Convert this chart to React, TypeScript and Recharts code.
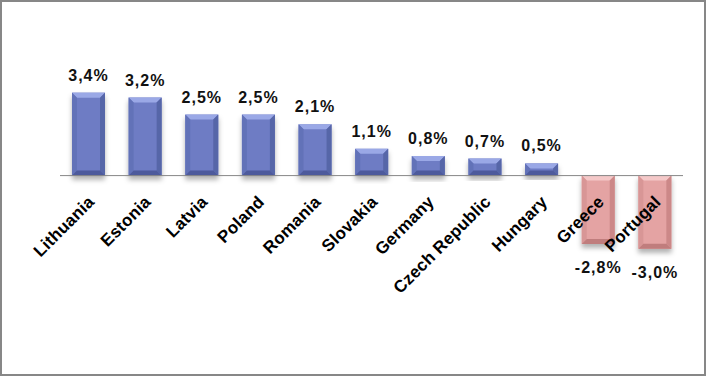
import { BarChart, Bar, XAxis, YAxis, ReferenceLine, LabelList } from 'recharts'

const countries = ['Lithuania', 'Estonia', 'Latvia', 'Poland', 'Romania', 'Slovakia', 'Germany', 'Czech Republic', 'Hungary', 'Greece', 'Portugal']
const growth = [3.4, 3.2, 2.5, 2.5, 2.1, 1.1, 0.8, 0.7, 0.5, -2.8, -3.0]

const data = countries.map((name, i) => ({ name, value: growth[i] }))

const BLUE = { main: '#6e7cc4', top: '#9aa8e6', left: '#6272b8', right: '#5766a8', bottom: '#4d5a9c' }
const PINK = { main: '#e4a3a3', top: '#f4c8c8', left: '#d89696', right: '#cc8888', bottom: '#c07d7d' }

function fmt(v: number) {
  return v.toFixed(1).replace('.', ',') + '%'
}

function BevelBar(props: any) {
  const { x, y, width, height, value } = props
  const top = Math.min(y, y + height)
  const h = Math.abs(height)
  const c = value < 0 ? PINK : BLUE
  const b = Math.min(5, h / 2)
  const r = x + width
  const bt = top + h
  return (
    <g filter="url(#barShadow)">
      <rect x={x} y={top} width={width} height={h} fill={c.main} />
      <polygon points={`${x},${top} ${r},${top} ${r - b},${top + b} ${x + b},${top + b}`} fill={c.top} />
      <polygon points={`${x},${top} ${x + b},${top + b} ${x + b},${bt - b} ${x},${bt}`} fill={c.left} />
      <polygon points={`${r},${top} ${r - b},${top + b} ${r - b},${bt - b} ${r},${bt}`} fill={c.right} />
      <polygon points={`${x},${bt} ${r},${bt} ${r - b},${bt - b} ${x + b},${bt - b}`} fill={c.bottom} />
    </g>
  )
}

function ValueLabel(props: any) {
  const { x, y, width, height, value } = props
  const top = Math.min(y, y + height)
  const bottom = Math.max(y, y + height)
  const ty = value < 0 ? bottom + 29 : top - 12
  return (
    <text x={x + width / 2} y={ty} textAnchor="middle" fill="#111" fontSize={16} fontWeight="bold"
      letterSpacing={1} fontFamily="'Liberation Sans', Arial, sans-serif">
      {fmt(value)}
    </text>
  )
}

function CountryTick(props: any) {
  const { x, y, payload } = props
  const tx = x + 7
  const ty = y - 58
  return (
    <text x={tx} y={ty} textAnchor="end" transform={`rotate(-45, ${tx}, ${ty})`}
      fill="#000" fontSize={17} fontWeight="bold" letterSpacing={0.2}
      fontFamily="'Liberation Sans', Arial, sans-serif">
      {payload.value}
    </text>
  )
}

export default function App() {
  return (
    <div style={{ position: 'absolute', left: 0, top: 0, width: 706, height: 376, background: '#fff' }}>
      <BarChart width={706} height={376} data={data}
        margin={{ top: 78, right: 23, left: 60, bottom: 0 }}>
        <defs>
          <filter id="barShadow" x="-30%" y="-30%" width="160%" height="160%">
            <feDropShadow dx="0" dy="4" stdDeviation="2.5" floodColor="#000" floodOpacity="0.3" />
          </filter>
        </defs>
        <YAxis hide domain={[-3.5, 4]} width={0} />
        <ReferenceLine y={0} stroke="#868686" strokeWidth={1} />
        <Bar dataKey="value" barSize={33} shape={<BevelBar />} isAnimationActive={false}>
          <LabelList dataKey="value" content={<ValueLabel />} />
        </Bar>
        <XAxis dataKey="name" height={115} axisLine={false} tickLine={false} tickSize={0} tickMargin={0}
          interval={0} tick={<CountryTick />} />
      </BarChart>
      <div style={{ position: 'absolute', left: 0, top: 0, width: 706, height: 376, boxSizing: 'border-box',
        border: '2px solid #878787', pointerEvents: 'none' }} />
    </div>
  )
}
